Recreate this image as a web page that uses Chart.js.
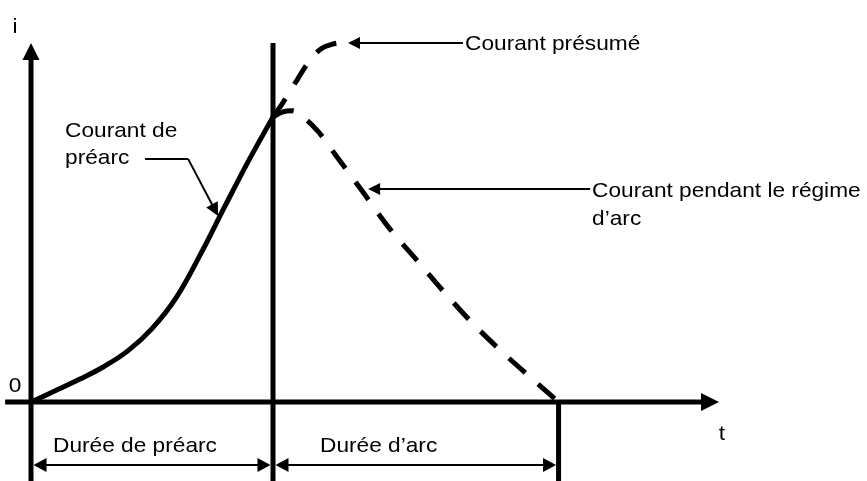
<!DOCTYPE html>
<html lang="fr">
<head>
<meta charset="utf-8">
<title>Courant de préarc et courant d'arc</title>
<script src="https://cdn.jsdelivr.net/npm/chart.js@4.4.0/dist/chart.umd.min.js"></script>
<style>
  html, body { margin: 0; padding: 0; background: #fff; }
  #wrap { width: 867px; height: 481px; }
</style>
</head>
<body>
<div id="wrap"><canvas id="diagramme" width="867" height="481"></canvas></div>
<script>
// temps en unités arbitraires, courant en % de la crête du courant présumé
const tPrearc = [0, 1, 2, 3, 4, 5, 6, 7, 8, 9, 10];
const iPrearc = [0, 3.1, 6.3, 9.8, 14.2, 20.4, 29.0, 41.0, 54.2, 67.1, 79.2];

const tPresume = [10, 10.33, 10.66, 11.0, 11.33, 11.66, 12.03, 12.45, 12.82];
const iPresume = [79.2, 82.3, 85.9, 89.5, 93.1, 96.1, 98.3, 99.4, 99.9];

const tArc = [10, 10.41, 10.79, 11.24, 11.87, 12.61, 13.61, 14.85, 15.98, 17.05, 18.17, 19.34, 20.58, 21.8];
const iArc = [79.2, 80.6, 80.9, 79.2, 75.1, 68.4, 59.3, 47.9, 39.1, 30.7, 22.4, 14.7, 7.2, 0];

// début, fin du préarc, fin de l'arc
const phaseTimes = [0, 10, 21.8];
const phaseLabels = ['Durée de préarc', 'Durée d’arc'];
const axisLabels = ['i', 't', '0'];
const labelPresume = ['Courant présumé'];
const labelArc = ['Courant pendant le régime', 'd’arc'];
const labelPrearc = ['Courant de', 'préarc'];

const FONT = '21px "Liberation Sans", Arial, sans-serif';
const ETIRE = 1.08; // le texte de l'original est un peu plus large

function pts(ts, is) {
  return ts.map((t, k) => ({ x: t, y: is[k] }));
}

function trait(ctx, x0, y0, x1, y1, w) {
  ctx.lineWidth = w;
  ctx.beginPath();
  ctx.moveTo(x0, y0);
  ctx.lineTo(x1, y1);
  ctx.stroke();
}

// pointe de flèche pleine en (x1,y1), orientée depuis (x0,y0)
function pointe(ctx, x0, y0, x1, y1, len, half) {
  const a = Math.atan2(y1 - y0, x1 - x0);
  const c = Math.cos(a), s = Math.sin(a);
  ctx.beginPath();
  ctx.moveTo(x1, y1);
  ctx.lineTo(x1 - len * c + half * s, y1 - len * s - half * c);
  ctx.lineTo(x1 - len * c - half * s, y1 - len * s + half * c);
  ctx.closePath();
  ctx.fill();
}

function fleche(ctx, x0, y0, x1, y1, w, len, half) {
  const a = Math.atan2(y1 - y0, x1 - x0);
  trait(ctx, x0, y0, x1 - (len - 1) * Math.cos(a), y1 - (len - 1) * Math.sin(a), w);
  pointe(ctx, x0, y0, x1, y1, len, half);
}

function texte(ctx, s, x, y) {
  ctx.save();
  ctx.translate(x, y);
  ctx.scale(ETIRE, 1);
  ctx.fillText(s, 0, 0);
  ctx.restore();
}

const schema = {
  id: 'schema',
  beforeDatasetsDraw(chart) {
    const ctx = chart.ctx;
    const X = v => chart.scales.x.getPixelForValue(v);
    const Y = v => chart.scales.y.getPixelForValue(v);
    const bas = chart.chartArea.bottom;
    const [t0, t1, t2] = phaseTimes;
    ctx.save();
    ctx.strokeStyle = '#000';
    ctx.fillStyle = '#000';
    ctx.lineCap = 'butt';

    // axes
    fleche(ctx, X(t0), bas, X(t0), Y(99.7), 5, 17, 8.5);
    fleche(ctx, X(-1.07), Y(0), X(28.43), Y(0), 5, 18, 9);
    // fin du préarc, fin de l'arc
    trait(ctx, X(t1), Y(99.7), X(t1), bas, 5);
    trait(ctx, X(t2), Y(0), X(t2), bas, 5);

    // cotes des durées
    const yc = Y(-17.5);
    [[t0, t1], [t1, t2]].forEach(([a, b]) => {
      const xa = X(a) + 2.5, xb = X(b) - 2.5;
      trait(ctx, xa + 10, yc, xb - 10, yc, 2);
      pointe(ctx, xb, yc, xa, yc, 13, 7);
      pointe(ctx, xa, yc, xb, yc, 13, 7);
    });

    // renvois des légendes
    const pr = { x: X(13.1), y: Y(99.7) };
    fleche(ctx, pr.x + 115, pr.y, pr.x, pr.y, 2, 12, 6);
    const ar = { x: X(13.93), y: Y(59.2) };
    fleche(ctx, ar.x + 222, ar.y, ar.x, ar.y, 2, 12, 6);
    const pa = { x: X(7.73), y: Y(51.7) };
    trait(ctx, pa.x - 73, pa.y - 57, pa.x - 30, pa.y - 57, 2);
    fleche(ctx, pa.x - 30, pa.y - 57, pa.x, pa.y, 2, 13, 6.5);
    ctx.restore();
  },
  afterDatasetsDraw(chart) {
    const ctx = chart.ctx;
    const X = v => chart.scales.x.getPixelForValue(v);
    const Y = v => chart.scales.y.getPixelForValue(v);
    const [t0, t1] = phaseTimes;
    ctx.save();
    ctx.fillStyle = '#000';
    ctx.font = FONT;
    ctx.textBaseline = 'alphabetic';

    ctx.textAlign = 'center';
    texte(ctx, axisLabels[0], X(t0) - 16, Y(99.7) - 10);
    texte(ctx, axisLabels[1], X(28.43) + 3, Y(0) + 38);
    texte(ctx, axisLabels[2], X(t0) - 16, Y(0) - 10);

    ctx.textAlign = 'left';
    const yc = Y(-17.5);
    texte(ctx, phaseLabels[0], X(t0) + 22, yc - 13);
    texte(ctx, phaseLabels[1], X(t1) + 47, yc - 13);

    const pr = { x: X(13.1) + 117, y: Y(99.7) };
    labelPresume.forEach((s, k) => texte(ctx, s, pr.x, pr.y + 7 + k * 28));
    const ar = { x: X(13.93) + 224, y: Y(59.2) };
    labelArc.forEach((s, k) => texte(ctx, s, ar.x, ar.y + 8 + k * 28));
    const pa = { x: X(7.73) - 153, y: Y(51.7) };
    labelPrearc.forEach((s, k) => texte(ctx, s, pa.x, pa.y - 79 + k * 27));
    ctx.restore();
  }
};

const ligne = {
  showLine: true,
  borderColor: '#000',
  borderWidth: 5,
  pointRadius: 0,
  fill: false,
  borderCapStyle: 'butt'
};

new Chart(document.getElementById('diagramme'), {
  type: 'scatter',
  data: {
    datasets: [
      Object.assign({ label: 'Courant de préarc', data: pts(tPrearc, iPrearc), tension: 0.4 }, ligne),
      Object.assign({ label: 'Courant présumé', data: pts(tPresume, iPresume), borderDash: [22, 17], cubicInterpolationMode: 'monotone' }, ligne),
      Object.assign({ label: 'Courant pendant le régime d’arc', data: pts(tArc, iArc), borderDash: [22, 17], cubicInterpolationMode: 'monotone' }, ligne)
    ]
  },
  options: {
    responsive: false,
    animation: false,
    events: [],
    layout: { padding: 0 },
    plugins: { legend: { display: false }, tooltip: { enabled: false } },
    scales: {
      x: { type: 'linear', min: -31 / 24.2, max: 836 / 24.2, display: false },
      y: { type: 'linear', min: -79 / 3.6, max: 402 / 3.6, display: false }
    }
  },
  plugins: [schema]
});
</script>
</body>
</html>
